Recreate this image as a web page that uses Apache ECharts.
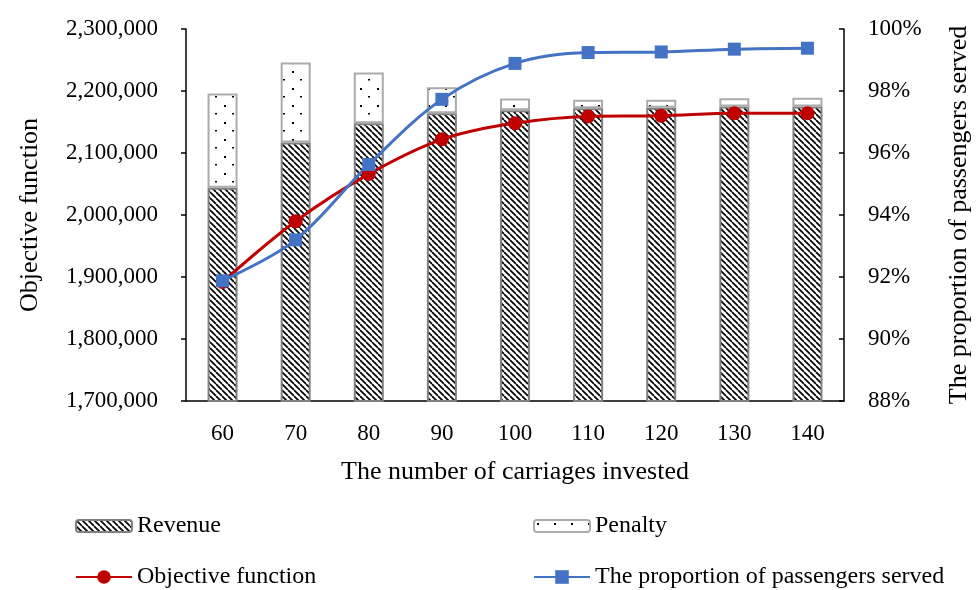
<!DOCTYPE html>
<html>
<head>
<meta charset="utf-8">
<script src="https://cdn.jsdelivr.net/npm/echarts@6/dist/echarts.min.js"></script>
<style>html,body{margin:0;padding:0;background:#fff}#c{width:976px;height:590px}</style>
</head>
<body>
<div id="c"></div>
<script>
var categories = ['60','70','80','90','100','110','120','130','140'];
var revenue = [2044000, 2117000, 2148000, 2164000, 2169000, 2172000, 2173000, 2175000, 2175000];
var penalty = [152000, 129000, 82000, 42000, 19000, 14000, 13000, 13500, 14000];
var objective = [1892000, 1990000, 2066000, 2122000, 2148000, 2159000, 2160000, 2164000, 2164000];
var proportion = [0.9188, 0.932, 0.9563, 0.9773, 0.9889, 0.9924, 0.9926, 0.9935, 0.9938];
var leftTicks = {min: 1700000, max: 2300000, interval: 100000};
var rightTicks = {min: 0.88, max: 1.0, interval: 0.02};

function hatchPattern() {
  var s = 6, c = document.createElement('canvas');
  c.width = s; c.height = s;
  var g = c.getContext('2d');
  g.fillStyle = '#fff'; g.fillRect(0, 0, s, s);
  g.strokeStyle = '#000'; g.lineWidth = 1.7;
  [-s, 0, s].forEach(function (k) {
    g.beginPath(); g.moveTo(k, 0); g.lineTo(k + s, s); g.stroke();
  });
  return c;
}
function dotPattern() {
  var s = 17, c = document.createElement('canvas');
  c.width = s; c.height = s;
  var g = c.getContext('2d');
  g.fillStyle = '#fff'; g.fillRect(0, 0, s, s);
  g.fillStyle = '#000';
  g.fillRect(3, 3, 2, 2);
  g.fillRect(11, 11, 2, 1.5);
  return c;
}

var font = 'Liberation Serif';
var chart = echarts.init(document.getElementById('c'), null, {renderer: 'canvas'});
var legendBase = {
  orient: 'horizontal', itemWidth: 56, itemHeight: 12, itemGap: 0, padding: 0,
  textStyle: {fontFamily: font, fontSize: 24, color: '#000'},
  selectedMode: false
};
chart.setOption({
  animation: false,
  backgroundColor: '#fff',
  textStyle: {fontFamily: font},
  grid: {left: 186, right: 132, top: 29, bottom: 189, containLabel: false, outerBoundsMode: 'none'},
  legend: [
    Object.assign({}, legendBase, {data: ['Revenue'], left: 75, top: 514}),
    Object.assign({}, legendBase, {data: ['Penalty'], left: 533, top: 514}),
    Object.assign({}, legendBase, {data: ['Objective function'], left: 75, top: 565, itemHeight: 17}),
    Object.assign({}, legendBase, {data: ['The proportion of passengers served'], left: 533, top: 565, itemHeight: 17})
  ],
  xAxis: {
    type: 'category', data: categories,
    axisLine: {lineStyle: {color: '#000', width: 1.5}},
    axisTick: {show: false},
    axisLabel: {fontFamily: font, fontSize: 23, color: '#000', margin: 21},
    name: 'The number of carriages invested', nameLocation: 'middle', nameGap: 58,
    nameTextStyle: {fontFamily: font, fontSize: 26, color: '#000'}
  },
  yAxis: [{
    type: 'value', min: leftTicks.min, max: leftTicks.max, interval: leftTicks.interval,
    axisLine: {show: true, lineStyle: {color: '#000', width: 1.5}},
    axisTick: {show: true, length: 5, lineStyle: {color: '#000', width: 1.5}},
    splitLine: {show: false},
    axisLabel: {fontFamily: font, fontSize: 23, color: '#000', margin: 28,
      formatter: function (v) { return v.toLocaleString('en-US'); }},
    name: 'Objective function', nameLocation: 'middle', nameGap: 143,
    nameTextStyle: {fontFamily: font, fontSize: 26, color: '#000'}
  }, {
    type: 'value', min: rightTicks.min, max: rightTicks.max, interval: rightTicks.interval,
    position: 'right',
    axisLine: {show: true, lineStyle: {color: '#000', width: 1.5}},
    axisTick: {show: true, inside: true, length: 5, lineStyle: {color: '#000', width: 1.5}},
    splitLine: {show: false},
    axisLabel: {fontFamily: font, fontSize: 23, color: '#000', margin: 24,
      formatter: function (v) { return Math.round(v * 100) + '%'; }},
    name: 'The proportion of passengers served', nameLocation: 'middle', nameGap: 102,
    nameRotate: 90,
    nameTextStyle: {fontFamily: font, fontSize: 26, color: '#000', verticalAlign: 'top'}
  }],
  series: [{
    name: 'Revenue', type: 'bar', stack: 'total', yAxisIndex: 0, barWidth: 30,
    data: revenue,
    itemStyle: {color: {image: hatchPattern(), repeat: 'repeat'}, borderColor: '#808080', borderWidth: 2}
  }, {
    name: 'Penalty', type: 'bar', stack: 'total', yAxisIndex: 0, barWidth: 30,
    data: penalty,
    itemStyle: {color: {image: dotPattern(), repeat: 'repeat'}, borderColor: '#ABABAB', borderWidth: 2}
  }, {
    name: 'Objective function', type: 'line', yAxisIndex: 0, smooth: 0.35,
    data: objective, symbol: 'circle', symbolSize: 14,
    lineStyle: {color: '#C00000', width: 3},
    itemStyle: {color: '#C00000'}
  }, {
    name: 'The proportion of passengers served', type: 'line', yAxisIndex: 1, smooth: 0.35,
    data: proportion, symbol: 'rect', symbolSize: 13,
    lineStyle: {color: '#4472C4', width: 3},
    itemStyle: {color: '#4472C4'}
  }]
});
</script>
</body>
</html>
